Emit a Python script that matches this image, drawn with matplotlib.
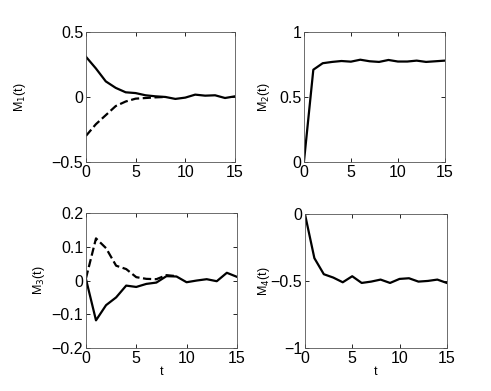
import matplotlib
matplotlib.use("Agg")
import matplotlib.pyplot as plt

plt.rcParams['font.family'] = ['Liberation Sans', 'DejaVu Sans']

t = list(range(16))
m1_solid = [0.31, 0.22, 0.12, 0.07, 0.036, 0.03, 0.013, 0.005, 0.0, -0.015, -0.005, 0.018, 0.01, 0.013, -0.008, 0.005]
t1_dash = list(range(9))
m1_dash = [-0.30, -0.21, -0.14, -0.07, -0.035, -0.013, -0.008, -0.003, 0.0]
m2 = [0.0, 0.71, 0.76, 0.77, 0.777, 0.772, 0.787, 0.775, 0.77, 0.785, 0.773, 0.773, 0.78, 0.77, 0.775, 0.78]
m3_solid = [0.005, -0.118, -0.073, -0.05, -0.015, -0.019, -0.01, -0.006, 0.013, 0.012, -0.005, 0.0, 0.004, -0.002, 0.023, 0.011]
t3_dash = list(range(10))
m3_dash = [0.006, 0.125, 0.096, 0.044, 0.034, 0.01, 0.005, 0.004, 0.016, 0.013]
m4 = [0.0, -0.33, -0.45, -0.475, -0.51, -0.465, -0.515, -0.505, -0.49, -0.515, -0.485, -0.48, -0.505, -0.5, -0.49, -0.515]

xticks = [0, 5, 10, 15]

fig = plt.figure(figsize=(4.91, 3.91), dpi=100)
ax1 = fig.add_axes([0.175, 0.586, 0.3035, 0.332])
ax2 = fig.add_axes([0.619, 0.586, 0.287, 0.332])
ax3 = fig.add_axes([0.175, 0.110, 0.3075, 0.345])
ax4 = fig.add_axes([0.621, 0.110, 0.289, 0.343])

lw = 1.6
lab = dict(fontsize=9, va='center')

ax1.plot(t, m1_solid, 'k-', lw=lw)
ax1.plot(t1_dash, m1_dash, 'k--', lw=lw)
ax1.set_ylim(-0.5, 0.5)
ax1.set_yticks([-0.5, 0, 0.5])
ax1.set_yticklabels(['\u22120.5', '0', '0.5'])
ax1.set_ylabel('M$_1$(t)', **lab)
ax1.yaxis.set_label_coords(-0.44, 0.5)

ax2.plot(t, m2, 'k-', lw=lw)
ax2.set_ylim(0, 1)
ax2.set_yticks([0, 0.5, 1])
ax2.set_yticklabels(['0', '0.5', '1'])
ax2.set_ylabel('M$_2$(t)', **lab)
ax2.yaxis.set_label_coords(-0.28, 0.5)

ax3.plot(t, m3_solid, 'k-', lw=lw)
ax3.plot(t3_dash, m3_dash, 'k--', lw=lw)
ax3.set_ylim(-0.2, 0.2)
ax3.set_yticks([-0.2, -0.1, 0, 0.1, 0.2])
ax3.set_yticklabels(['\u22120.2', '\u22120.1', '0', '0.1', '0.2'])
ax3.set_ylabel('M$_3$(t)', **lab)
ax3.yaxis.set_label_coords(-0.31, 0.5)
ax3.set_xlabel('t', fontsize=9, labelpad=0)

ax4.plot(t, m4, 'k-', lw=lw)
ax4.set_ylim(-1, 0)
ax4.set_yticks([-1, -0.5, 0])
ax4.set_yticklabels(['\u22121', '\u22120.5', '0'])
ax4.set_ylabel('M$_4$(t)', **lab)
ax4.yaxis.set_label_coords(-0.29, 0.5)
ax4.set_xlabel('t', fontsize=9, labelpad=0)

for ax in (ax1, ax2, ax3, ax4):
    ax.set_xlim(0, 15)
    ax.set_xticks(xticks)
    ax.tick_params(direction='in', top=True, right=True, labelsize=11.5, length=3, width=0.6, pad=2)
    for s in ax.spines.values():
        s.set_linewidth(0.6)
        s.set_color('#555555')

fig.savefig('out.png', dpi=100)
